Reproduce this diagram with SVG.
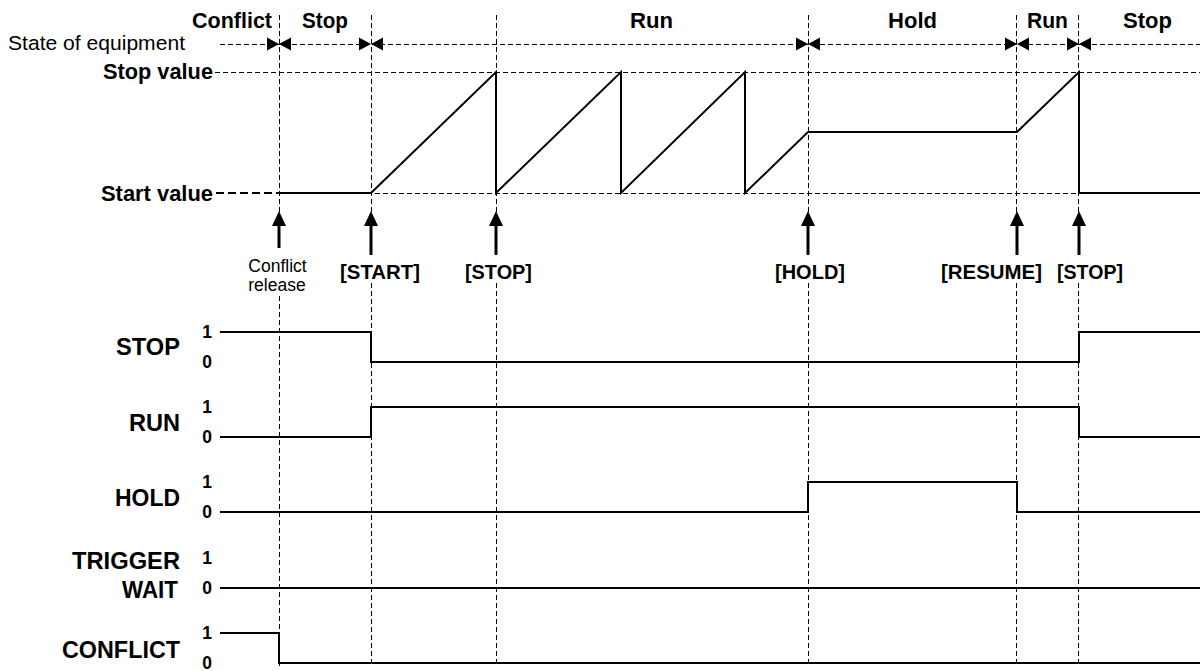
<svg xmlns="http://www.w3.org/2000/svg" width="1200" height="671" viewBox="0 0 1200 671">
<style>
  .t { font-family: "Liberation Sans", Arial, sans-serif; fill: #000; }
  .st { font-size: 22px; font-weight: bold; }
  .lbl { font-size: 23px; font-weight: bold; }
  .dig { font-size: 17.5px; font-weight: bold; text-anchor: middle; }
  .br { font-size: 20.5px; font-weight: bold; }
  .dash { stroke: #000; stroke-width: 1; stroke-dasharray: 5 3; fill: none; }
  .sig { stroke: #000; stroke-width: 2; fill: none; }
  .arr { stroke: #000; stroke-width: 3; fill: none; marker-end: url(#ah); }
</style>
<defs>
  <marker id="ah" markerWidth="15" markerHeight="14" refX="4" refY="7" orient="auto" markerUnits="userSpaceOnUse">
    <path d="M0,0 L15,7 L0,14 Z" fill="#000"/>
  </marker>
  <path id="bowtie" d="M-12,-6.5 L0,0 L-12,6.5 Z M12,-6.5 L0,0 L12,6.5 Z" fill="#000"/>
</defs>
<rect width="1200" height="671" fill="#fff"/>

<g id="grid">
  <line class="dash" x1="220" y1="44.5" x2="1200" y2="44.5"/>
  <line class="dash" x1="215" y1="72.5" x2="1200" y2="72.5"/>
  <line class="dash" x1="279" y1="193.5" x2="1200" y2="193.5"/>
  <line x1="216" y1="193" x2="279" y2="193" stroke="#000" stroke-width="2" stroke-dasharray="8 4"/>
  <line class="dash" x1="279.5" y1="15" x2="279.5" y2="212"/>
  <line class="dash" x1="279.5" y1="296" x2="279.5" y2="666"/>
  <line class="dash" x1="371.5" y1="15" x2="371.5" y2="212"/>
  <line class="dash" x1="371.5" y1="283" x2="371.5" y2="666"/>
  <line class="dash" x1="496.5" y1="15" x2="496.5" y2="212"/>
  <line class="dash" x1="496.5" y1="283" x2="496.5" y2="666"/>
  <line class="dash" x1="808.5" y1="15" x2="808.5" y2="212"/>
  <line class="dash" x1="808.5" y1="283" x2="808.5" y2="666"/>
  <line class="dash" x1="1016.5" y1="15" x2="1016.5" y2="212"/>
  <line class="dash" x1="1016.5" y1="283" x2="1016.5" y2="666"/>
  <line class="dash" x1="1078.5" y1="15" x2="1078.5" y2="212"/>
  <line class="dash" x1="1078.5" y1="283" x2="1078.5" y2="666"/>
</g>

<g id="state-row">
  <text class="t" x="8" y="50" font-size="20.5" textLength="177" lengthAdjust="spacingAndGlyphs">State of equipment</text>
  <text class="t st" x="192" y="28" textLength="80" lengthAdjust="spacingAndGlyphs">Conflict</text>
  <text class="t st" x="302" y="28" textLength="46" lengthAdjust="spacingAndGlyphs">Stop</text>
  <text class="t st" x="630" y="28" textLength="43" lengthAdjust="spacingAndGlyphs">Run</text>
  <text class="t st" x="888" y="28" textLength="49" lengthAdjust="spacingAndGlyphs">Hold</text>
  <text class="t st" x="1027" y="28" textLength="41" lengthAdjust="spacingAndGlyphs">Run</text>
  <text class="t st" x="1123" y="28" textLength="49" lengthAdjust="spacingAndGlyphs">Stop</text>
  <use href="#bowtie" x="279" y="44"/>
  <use href="#bowtie" x="371" y="44"/>
  <use href="#bowtie" x="808" y="44"/>
  <use href="#bowtie" x="1017" y="44"/>
  <use href="#bowtie" x="1079" y="44"/>
</g>

<g id="value-graph">
  <text class="t st" x="103" y="79" textLength="110" lengthAdjust="spacingAndGlyphs">Stop value</text>
  <text class="t st" x="101" y="201" textLength="112" lengthAdjust="spacingAndGlyphs">Start value</text>
  <path class="sig" d="M279,193 H371 L496,72 V193 L621,72 V193 L745,72 V193 L808,132 H1017 L1079,72 V193 H1200"/>
</g>

<g id="connectors">
  <line class="arr" x1="279" y1="248" x2="279" y2="222"/>
  <line class="arr" x1="371" y1="255" x2="371" y2="222"/>
  <line class="arr" x1="496" y1="255" x2="496" y2="222"/>
  <line class="arr" x1="808" y1="255" x2="808" y2="222"/>
  <line class="arr" x1="1017" y1="255" x2="1017" y2="222"/>
  <line class="arr" x1="1079" y1="255" x2="1079" y2="222"/>
</g>

<g id="commands">
  <text class="t" x="277.5" y="272" font-size="17.5" text-anchor="middle">Conflict</text>
  <text class="t" x="277" y="291" font-size="17.5" text-anchor="middle">release</text>
  <text class="t br" x="340" y="279" textLength="80" lengthAdjust="spacingAndGlyphs">[START]</text>
  <text class="t br" x="465" y="279" textLength="67" lengthAdjust="spacingAndGlyphs">[STOP]</text>
  <text class="t br" x="775" y="279" textLength="70" lengthAdjust="spacingAndGlyphs">[HOLD]</text>
  <text class="t br" x="941" y="279" textLength="101" lengthAdjust="spacingAndGlyphs">[RESUME]</text>
  <text class="t br" x="1057" y="279" textLength="66" lengthAdjust="spacingAndGlyphs">[STOP]</text>
</g>

<g id="sig-stop">
  <text class="t lbl" x="180" y="355" text-anchor="end" textLength="64" lengthAdjust="spacingAndGlyphs">STOP</text>
  <text class="t dig" x="207" y="338">1</text>
  <text class="t dig" x="207" y="368">0</text>
  <path class="sig" d="M220,332 H371 V362 H1079 V332 H1200"/>
</g>

<g id="sig-run">
  <text class="t lbl" x="180" y="431" text-anchor="end" textLength="51" lengthAdjust="spacingAndGlyphs">RUN</text>
  <text class="t dig" x="207" y="413">1</text>
  <text class="t dig" x="207" y="443">0</text>
  <path class="sig" d="M220,437 H371 V407 H1079 V437 H1200"/>
</g>

<g id="sig-hold">
  <text class="t lbl" x="180" y="506" text-anchor="end" textLength="65" lengthAdjust="spacingAndGlyphs">HOLD</text>
  <text class="t dig" x="207" y="488">1</text>
  <text class="t dig" x="207" y="518">0</text>
  <path class="sig" d="M220,512 H808 V482 H1017 V512 H1200"/>
</g>

<g id="sig-trigger-wait">
  <text class="t lbl" x="180" y="569" text-anchor="end" textLength="108" lengthAdjust="spacingAndGlyphs">TRIGGER</text>
  <text class="t lbl" x="178" y="598" text-anchor="end" textLength="56" lengthAdjust="spacingAndGlyphs">WAIT</text>
  <text class="t dig" x="207" y="564">1</text>
  <text class="t dig" x="207" y="594">0</text>
  <path class="sig" d="M220,588 H1200"/>
</g>

<g id="sig-conflict">
  <text class="t lbl" x="180" y="658" text-anchor="end" textLength="118" lengthAdjust="spacingAndGlyphs">CONFLICT</text>
  <text class="t dig" x="207" y="639">1</text>
  <text class="t dig" x="207" y="669">0</text>
  <path class="sig" d="M220,633 H279 V663 H1200"/>
</g>
</svg>
